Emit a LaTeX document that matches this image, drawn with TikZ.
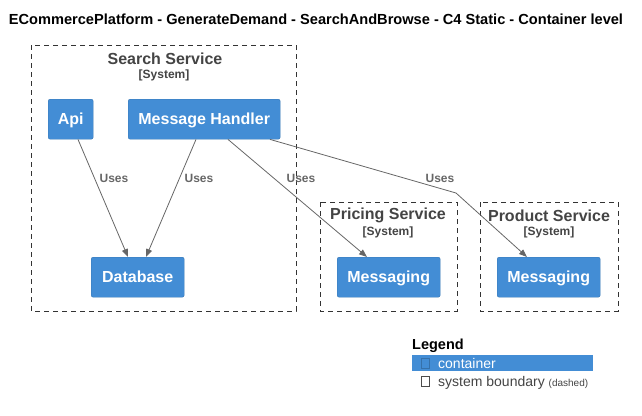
\documentclass[tikz,border=0pt]{standalone}
\usepackage{fontspec}
\setmainfont{Liberation Sans}
\usetikzlibrary{arrows.meta,calc}
\definecolor{cblue}{HTML}{438DD5}
\definecolor{cgray}{HTML}{666666}
\definecolor{tgray}{HTML}{444444}
\begin{document}
\begin{tikzpicture}[x=1pt,y=-1pt,
  container/.style={draw=cblue!85!black, line width=0.4pt, fill=cblue, rounded corners=2pt, text=white, font=\fontsize{16}{18}\selectfont\bfseries, anchor=north west, inner sep=0pt, text height=13pt, text depth=1.5pt},
  boundary/.style={draw=black!80, dashed, dash pattern=on 5pt off 4pt, line width=0.6pt},
  btitle/.style={text=tgray, font=\fontsize{16}{18}\selectfont\bfseries, inner sep=0pt},
  bsys/.style={text=tgray, font=\fontsize{12}{14}\selectfont\bfseries, inner sep=0pt},
  rel/.style={draw=cgray, line width=0.8pt, -{Triangle[length=8pt,width=6pt]}},
  rlabel/.style={text=cgray, font=\fontsize{12}{14}\selectfont\bfseries, inner sep=0pt},
  legbox/.style={draw=#1, line width=0.5pt}
]
\useasboundingbox (0,0) rectangle (642,415);
\node[font=\fontsize{14.6}{16}\selectfont\bfseries, inner sep=0pt] (title) at (316,19) {ECommercePlatform - GenerateDemand - SearchAndBrowse - C4 Static - Container level};

% boundaries
\draw[boundary] (31,45) rectangle (296,311);
\node[btitle] (sst) at (165,58.5) {Search Service};
\node[bsys] (sss) at (164,75) {[System]};
\draw[boundary] (320,202) rectangle (457,311);
\node[btitle] (pst) at (388,215.5) {Pricing Service};
\node[bsys] (pss) at (388,232) {[System]};
\draw[boundary] (480,202) rectangle (618,311);
\node[btitle] (prt) at (549,215.5) {Product Service};
\node[bsys] (prs) at (549,232) {[System]};

% containers
\node[container, minimum width=45pt, minimum height=40pt] (api) at (48,99) {Api};
\node[container, minimum width=152pt, minimum height=40pt] (mh) at (128,99) {Message Handler};
\node[container, minimum width=93pt, minimum height=40pt] (db) at (91,257) {Database};
\node[container, minimum width=103pt, minimum height=40pt] (pm) at (337,257) {Messaging};
\node[container, minimum width=103pt, minimum height=40pt] (prm) at (497,257) {Messaging};

% relations
\coordinate (bend) at (456,193);
\draw[rel] ($(api.south west)+(30,0)$) -- ($(db.north west)+(37,0)$);
\draw[rel] ($(mh.south west)+(68,0)$) -- ($(db.north west)+(55,0)$);
\draw[rel] ($(mh.south west)+(100,0)$) -- ($(pm.north west)+(30,0)$);
\draw[rel] ($(mh.south west)+(142,0)$) -- (bend) -- ($(prm.north west)+(30,0)$);
\node[rlabel] (l1) at (114,178) {Uses};
\node[rlabel] (l2) at (199,178) {Uses};
\node[rlabel] (l3) at (301,178) {Uses};
\node[rlabel] (l4) at (440,178) {Uses};

% legend
\node[font=\fontsize{14.5}{16}\selectfont\bfseries, anchor=west, inner sep=0pt] (legt) at (412,346) {Legend};
\fill[cblue] (412,355) rectangle (593,371);
\draw[legbox=cblue!80!black] (421,358) rectangle (429,368);
\node[text=white, font=\fontsize{14}{16}\selectfont, anchor=west, inner sep=0pt] (legc) at (438,363) {container};
\draw[legbox=black!70] (421,376) rectangle (429,386);
\node[text=tgray, font=\fontsize{14}{16}\selectfont, anchor=base west, inner sep=0pt] (legs) at (438,386) {system boundary {\fontsize{10}{12}\selectfont(dashed)}};
\end{tikzpicture}
\end{document}
